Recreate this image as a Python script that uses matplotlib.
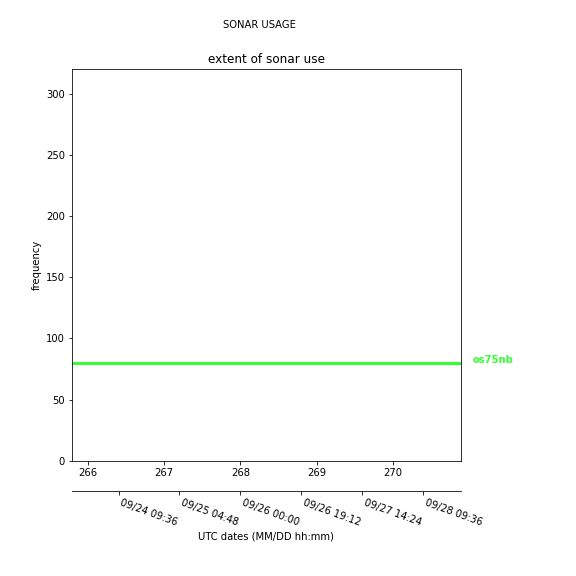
import matplotlib
matplotlib.use("Agg")
import matplotlib.pyplot as plt

# data
ddays = [265.79, 270.89]
freq = [80, 80]
sonar = "os75nb"
date_ticks = [266.4, 267.2, 268.0, 268.8, 269.6, 270.4]
date_labels = ["09/24 09:36", "09/25 04:48", "09/26 00:00",
               "09/26 19:12", "09/27 14:24", "09/28 09:36"]

fig = plt.figure(figsize=(8, 8), dpi=72)
fig.subplots_adjust(left=0.125, right=0.8, bottom=0.2, top=0.88)
ax = fig.add_subplot(111)
ax.plot(ddays, freq, color="#33ff33", lw=3)
ax.set_xlim(265.79, 270.89)
ax.set_ylim(0, 320)
ax.set_ylabel("frequency")
ax.set_title("extent of sonar use", fontsize=12)
ax.text(1.03, 80, sonar, transform=ax.get_yaxis_transform(), color="#33ff33",
        fontweight="bold", va="baseline", ha="left", fontsize=10)
fig.suptitle("SONAR USAGE", fontsize=10, x=0.45, y=0.965)

ax2 = ax.twiny()
ax2.set_xlim(ax.get_xlim())
ax2.xaxis.set_ticks_position("bottom")
ax2.xaxis.set_label_position("bottom")
ax2.spines["bottom"].set_position(("outward", 30))
for s in ["top", "left", "right"]:
    ax2.spines[s].set_visible(False)
ax2.set_xticks(date_ticks)
ax2.set_xticklabels(date_labels, rotation=-20, ha="left")
ax2.set_xlabel("UTC dates (MM/DD hh:mm)")

fig.savefig("out.png", dpi=72)
